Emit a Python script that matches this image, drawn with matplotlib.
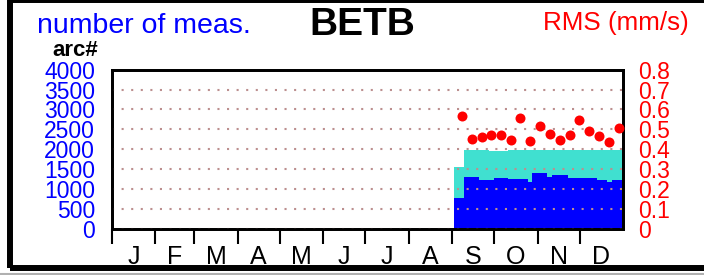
import matplotlib.pyplot as plt
import numpy as np
from matplotlib.patches import Rectangle
from matplotlib.lines import Line2D

plt.rcParams['font.family'] = ['Liberation Sans', 'DejaVu Sans']

# step edges (day of year) and counts per arc
edges = [244.4, 251.5, 262.5, 269.2, 272.9, 283.2, 290.3, 297.4, 300.3,
         311.0, 314.6, 326.0, 328.4, 346.7, 353.4, 357.0, 365.0]
n_blue = [780, 1290, 1225, 1210, 1275, 1258, 1242, 1160,
          1392, 1292, 1342, 1267, 1285, 1225, 1160, 1235]
n_total = [1540, 1985, 1985, 1960, 1950, 1975, 1975, 1980,
           1990, 1990, 1985, 1985, 1975, 1980, 1980, 1985]

# weekly RMS values
rms_day = [249.9, 257.0, 264.2, 270.8, 277.9, 284.9, 291.7, 298.6, 305.7,
           312.9, 320.0, 327.2, 333.8, 340.9, 347.7, 354.9, 362.0]
rms = [0.565, 0.453, 0.463, 0.473, 0.473, 0.448, 0.555, 0.443, 0.518,
       0.477, 0.448, 0.473, 0.545, 0.493, 0.468, 0.438, 0.507]

month_start = [0, 31, 59, 90, 120, 151, 181, 212, 243, 273, 304, 334, 365]
month_labels = ['J', 'F', 'M', 'A', 'M', 'J', 'J', 'A', 'S', 'O', 'N', 'D']

W, H = 704, 275
fig = plt.figure(figsize=(W / 100, H / 100), dpi=100)
ax = fig.add_axes([111.6 / W, 46.5 / H, 511.4 / W, 158.7 / H])

ax.stairs(n_total, edges, fill=True, color='turquoise', zorder=1)
ax.stairs(n_blue, edges, fill=True, color='blue', zorder=1.1)

ax.set_xlim(0, 365)
ax.set_ylim(0, 4000)
ax.set_yticks(np.arange(0, 4001, 500))
ax.set_yticklabels([str(v) for v in range(0, 4001, 500)])
ax.set_axisbelow(False)
ax.yaxis.grid(True, color='#bc8f8f', linestyle=(0, (1, 3.6)), linewidth=1.5)

ax.set_xticks(month_start[:-1])
ax.set_xticklabels([])
mid = [(a + b) / 2 for a, b in zip(month_start[:-1], month_start[1:])]
ax.set_xticks(mid, minor=True)
ax.set_xticklabels(month_labels, minor=True, fontsize=18)
ax.tick_params(axis='x', which='major', direction='out', length=11, width=1.5)
ax.tick_params(axis='x', which='minor', length=0, pad=12)
ax.tick_params(axis='y', length=0, pad=12, labelsize=16.5, labelcolor='blue')
for s in ax.spines.values():
    s.set_linewidth(2)

ax2 = ax.twinx()
ax2.plot(rms_day, rms, 'o', color='red', ms=7.2, mew=0, clip_on=False, zorder=3)
ax2.set_ylim(0, 0.8)
ax2.set_yticks(np.arange(0, 0.81, 0.1))
ax2.set_yticklabels(['0'] + ['%.1f' % v for v in np.arange(0.1, 0.81, 0.1)])
ax2.tick_params(axis='y', length=0, pad=11, labelsize=16.5, labelcolor='red')
for s in ax2.spines.values():
    s.set_linewidth(2)

fig.text(37 / W, 1 - 33 / H, 'number of meas.', color='blue', fontsize=20.5, va='baseline')
fig.text(362 / W, 1 - 35 / H, 'BETB', color='black', fontsize=28, fontweight='bold',
         ha='center', va='baseline')
fig.text(543 / W, 1 - 30 / H, 'RMS (mm/s)', color='red', fontsize=18.7, va='baseline')
fig.text(52 / W, 1 - 56 / H, 'arc#', color='black', fontsize=16, fontweight='bold',
         va='baseline')

# outer frame
fig.add_artist(Rectangle((10 / W, 7 / H), 1.2, 268 / H, transform=fig.transFigure,
                         fill=False, ec='black', lw=4.3))
fig.add_artist(Line2D([0, 1], [1 / H, 1 / H], transform=fig.transFigure,
                      color='#b0b0b0', lw=1.5))

fig.savefig('out.png', dpi=100)
